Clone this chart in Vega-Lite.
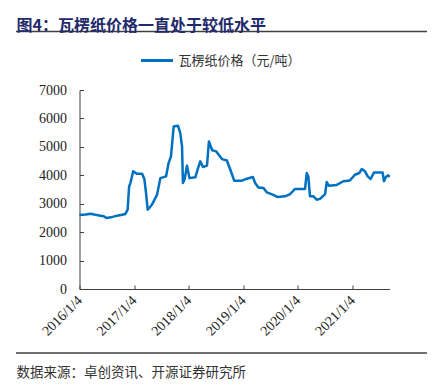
{
  "$schema": "https://vega.github.io/schema/vega-lite/v6.json",
  "width": 310,
  "height": 199,
  "autosize": {"type": "none"},
  "padding": {"left": 79.5, "top": 90, "right": 43.5, "bottom": 102},
  "background": "white",
  "config": {"view": {"stroke": null}},
  "title": {
    "text": "图4：瓦楞纸价格一直处于较低水平",
    "anchor": "start",
    "frame": "group",
    "dx": -63,
    "offset": -3,
    "font": "Noto Sans CJK SC",
    "fontSize": 16,
    "fontWeight": "bold",
    "color": "#1F2A6B"
  },
  "layer": [
    {
      "data": {
        "values": [
          {"date": "2016/01/04", "price": 2600, "series": "瓦楞纸价格（元/吨）"},
          {"date": "2016/02/15", "price": 2620, "series": "瓦楞纸价格（元/吨）"},
          {"date": "2016/03/17", "price": 2650, "series": "瓦楞纸价格（元/吨）"},
          {"date": "2016/04/20", "price": 2610, "series": "瓦楞纸价格（元/吨）"},
          {"date": "2016/05/23", "price": 2580, "series": "瓦楞纸价格（元/吨）"},
          {"date": "2016/06/15", "price": 2560, "series": "瓦楞纸价格（元/吨）"},
          {"date": "2016/07/02", "price": 2500, "series": "瓦楞纸价格（元/吨）"},
          {"date": "2016/08/01", "price": 2520, "series": "瓦楞纸价格（元/吨）"},
          {"date": "2016/09/12", "price": 2580, "series": "瓦楞纸价格（元/吨）"},
          {"date": "2016/10/15", "price": 2610, "series": "瓦楞纸价格（元/吨）"},
          {"date": "2016/11/06", "price": 2640, "series": "瓦楞纸价格（元/吨）"},
          {"date": "2016/11/21", "price": 2790, "series": "瓦楞纸价格（元/吨）"},
          {"date": "2016/12/01", "price": 3610, "series": "瓦楞纸价格（元/吨）"},
          {"date": "2016/12/10", "price": 3730, "series": "瓦楞纸价格（元/吨）"},
          {"date": "2016/12/28", "price": 4140, "series": "瓦楞纸价格（元/吨）"},
          {"date": "2017/01/23", "price": 4050, "series": "瓦楞纸价格（元/吨）"},
          {"date": "2017/02/26", "price": 4050, "series": "瓦楞纸价格（元/吨）"},
          {"date": "2017/03/13", "price": 3870, "series": "瓦楞纸价格（元/吨）"},
          {"date": "2017/03/24", "price": 3380, "series": "瓦楞纸价格（元/吨）"},
          {"date": "2017/04/04", "price": 2790, "series": "瓦楞纸价格（元/吨）"},
          {"date": "2017/04/15", "price": 2850, "series": "瓦楞纸价格（元/吨）"},
          {"date": "2017/05/03", "price": 2970, "series": "瓦楞纸价格（元/吨）"},
          {"date": "2017/06/06", "price": 3320, "series": "瓦楞纸价格（元/吨）"},
          {"date": "2017/06/28", "price": 3900, "series": "瓦楞纸价格（元/吨）"},
          {"date": "2017/08/05", "price": 3960, "series": "瓦楞纸价格（元/吨）"},
          {"date": "2017/08/22", "price": 4430, "series": "瓦楞纸价格（元/吨）"},
          {"date": "2017/09/07", "price": 4660, "series": "瓦楞纸价格（元/吨）"},
          {"date": "2017/09/25", "price": 5720, "series": "瓦楞纸价格（元/吨）"},
          {"date": "2017/10/24", "price": 5740, "series": "瓦楞纸价格（元/吨）"},
          {"date": "2017/11/08", "price": 5490, "series": "瓦楞纸价格（元/吨）"},
          {"date": "2017/11/20", "price": 5020, "series": "瓦楞纸价格（元/吨）"},
          {"date": "2017/11/26", "price": 3730, "series": "瓦楞纸价格（元/吨）"},
          {"date": "2017/12/07", "price": 3850, "series": "瓦楞纸价格（元/吨）"},
          {"date": "2017/12/23", "price": 4340, "series": "瓦楞纸价格（元/吨）"},
          {"date": "2018/01/09", "price": 3900, "series": "瓦楞纸价格（元/吨）"},
          {"date": "2018/02/17", "price": 3930, "series": "瓦楞纸价格（元/吨）"},
          {"date": "2018/03/04", "price": 4200, "series": "瓦楞纸价格（元/吨）"},
          {"date": "2018/03/22", "price": 4490, "series": "瓦楞纸价格（元/吨）"},
          {"date": "2018/04/09", "price": 4290, "series": "瓦楞纸价格（元/吨）"},
          {"date": "2018/05/06", "price": 4340, "series": "瓦楞纸价格（元/吨）"},
          {"date": "2018/05/19", "price": 5190, "series": "瓦楞纸价格（元/吨）"},
          {"date": "2018/06/10", "price": 4880, "series": "瓦楞纸价格（元/吨）"},
          {"date": "2018/07/07", "price": 4840, "series": "瓦楞纸价格（元/吨）"},
          {"date": "2018/08/14", "price": 4570, "series": "瓦楞纸价格（元/吨）"},
          {"date": "2018/09/16", "price": 4520, "series": "瓦楞纸价格（元/吨）"},
          {"date": "2018/10/13", "price": 4140, "series": "瓦楞纸价格（元/吨）"},
          {"date": "2018/11/04", "price": 3810, "series": "瓦楞纸价格（元/吨）"},
          {"date": "2018/12/25", "price": 3810, "series": "瓦楞纸价格（元/吨）"},
          {"date": "2019/01/28", "price": 3880, "series": "瓦楞纸价格（元/吨）"},
          {"date": "2019/03/09", "price": 3940, "series": "瓦楞纸价格（元/吨）"},
          {"date": "2019/03/24", "price": 3730, "series": "瓦楞纸价格（元/吨）"},
          {"date": "2019/04/15", "price": 3570, "series": "瓦楞纸价格（元/吨）"},
          {"date": "2019/05/19", "price": 3550, "series": "瓦楞纸价格（元/吨）"},
          {"date": "2019/06/10", "price": 3400, "series": "瓦楞纸价格（元/吨）"},
          {"date": "2019/07/20", "price": 3320, "series": "瓦楞纸价格（元/吨）"},
          {"date": "2019/08/20", "price": 3240, "series": "瓦楞纸价格（元/吨）"},
          {"date": "2019/10/10", "price": 3260, "series": "瓦楞纸价格（元/吨）"},
          {"date": "2019/11/13", "price": 3340, "series": "瓦楞纸价格（元/吨）"},
          {"date": "2019/12/16", "price": 3520, "series": "瓦楞纸价格（元/吨）"},
          {"date": "2020/02/21", "price": 3520, "series": "瓦楞纸价格（元/吨）"},
          {"date": "2020/03/03", "price": 4080, "series": "瓦楞纸价格（元/吨）"},
          {"date": "2020/03/14", "price": 3960, "series": "瓦楞纸价格（元/吨）"},
          {"date": "2020/03/25", "price": 3260, "series": "瓦楞纸价格（元/吨）"},
          {"date": "2020/04/17", "price": 3260, "series": "瓦楞纸价格（元/吨）"},
          {"date": "2020/05/09", "price": 3140, "series": "瓦楞纸价格（元/吨）"},
          {"date": "2020/05/31", "price": 3170, "series": "瓦楞纸价格（元/吨）"},
          {"date": "2020/07/04", "price": 3340, "series": "瓦楞纸价格（元/吨）"},
          {"date": "2020/07/15", "price": 3760, "series": "瓦楞纸价格（元/吨）"},
          {"date": "2020/07/30", "price": 3630, "series": "瓦楞纸价格（元/吨）"},
          {"date": "2020/09/20", "price": 3660, "series": "瓦楞纸价格（元/吨）"},
          {"date": "2020/11/03", "price": 3790, "series": "瓦楞纸价格（元/吨）"},
          {"date": "2020/12/17", "price": 3820, "series": "瓦楞纸价格（元/吨）"},
          {"date": "2021/01/20", "price": 4020, "series": "瓦楞纸价格（元/吨）"},
          {"date": "2021/02/18", "price": 4080, "series": "瓦楞纸价格（元/吨）"},
          {"date": "2021/03/06", "price": 4220, "series": "瓦楞纸价格（元/吨）"},
          {"date": "2021/03/28", "price": 4140, "series": "瓦楞纸价格（元/吨）"},
          {"date": "2021/04/15", "price": 3960, "series": "瓦楞纸价格（元/吨）"},
          {"date": "2021/05/05", "price": 3870, "series": "瓦楞纸价格（元/吨）"},
          {"date": "2021/05/27", "price": 4100, "series": "瓦楞纸价格（元/吨）"},
          {"date": "2021/07/24", "price": 4100, "series": "瓦楞纸价格（元/吨）"},
          {"date": "2021/08/02", "price": 3790, "series": "瓦楞纸价格（元/吨）"},
          {"date": "2021/08/15", "price": 3940, "series": "瓦楞纸价格（元/吨）"},
          {"date": "2021/08/30", "price": 4000, "series": "瓦楞纸价格（元/吨）"},
          {"date": "2021/09/08", "price": 3940, "series": "瓦楞纸价格（元/吨）"}
        ]
      },
      "mark": {"type": "line", "strokeWidth": 2.5, "strokeJoin": "round"},
      "encoding": {
        "x": {
          "field": "date",
          "type": "temporal",
          "scale": {"domain": [{"year": 2016, "month": 1, "date": 4}, {"year": 2021, "month": 9, "date": 8}]},
          "axis": {
            "values": [
              {"year": 2016, "month": 1, "date": 4},
              {"year": 2017, "month": 1, "date": 4},
              {"year": 2018, "month": 1, "date": 4},
              {"year": 2019, "month": 1, "date": 4},
              {"year": 2020, "month": 1, "date": 4},
              {"year": 2021, "month": 1, "date": 4}
            ],
            "tickCount": 20,
            "labelExpr": "timeFormat(datum.value, '%Y/%-m/%-d')",
            "labelAngle": -45,
            "labelAlign": "right",
            "labelBaseline": "middle",
            "labelPadding": 13,
            "labelFont": "Liberation Serif",
            "labelFontSize": 14,
            "labelColor": "#222222",
            "labelOverlap": false,
            "labelFlush": false,
            "tickSize": -4,
            "tickColor": "#404040",
            "domainColor": "#404040",
            "grid": false,
            "title": "数据来源：卓创资讯、开源证券研究所",
            "titleFont": "Noto Sans CJK SC",
            "titleFontSize": 13.5,
            "titleFontWeight": "normal",
            "titleColor": "#333333",
            "titleAnchor": "start",
            "titleAlign": "left",
            "titleBaseline": "middle",
            "titleX": -63.5,
            "titleY": 83
          }
        },
        "y": {
          "field": "price",
          "type": "quantitative",
          "scale": {"domain": [0, 7000], "nice": false, "zero": true},
          "axis": {
            "values": [0, 1000, 2000, 3000, 4000, 5000, 6000, 7000],
            "tickCount": 20,
            "format": "d",
            "labelOverlap": false,
            "labelFlush": false,
            "labelFont": "Liberation Serif",
            "labelFontSize": 14,
            "labelColor": "#222222",
            "labelPadding": 17,
            "tickSize": -4,
            "tickColor": "#404040",
            "domainColor": "#404040",
            "grid": false,
            "title": null
          }
        },
        "color": {
          "field": "series",
          "type": "nominal",
          "scale": {"domain": ["瓦楞纸价格（元/吨）"], "range": ["#0070C0"]},
          "legend": {
            "orient": "none",
            "legendX": 60,
            "legendY": -47,
            "title": null,
            "symbolType": "stroke",
            "symbolSize": 1024,
            "symbolStrokeWidth": 3,
            "labelFont": "Noto Sans CJK SC",
            "labelFontSize": 13,
            "labelColor": "#333333",
            "labelOffset": 4
          }
        }
      }
    },
    {
      "data": {"values": [{"part": "header"}]},
      "mark": {"type": "rule", "color": "#404040", "strokeWidth": 1.3},
      "encoding": {
        "x": {"datum": {"year": 2014, "month": 11, "date": 5}, "type": "temporal"},
        "x2": {"datum": {"year": 2022, "month": 5, "date": 17}},
        "y": {"datum": 9058, "type": "quantitative"}
      }
    },
    {
      "data": {"values": [{"part": "footer"}]},
      "mark": {"type": "rule", "color": "#404040", "strokeWidth": 1.3},
      "encoding": {
        "x": {"datum": {"year": 2014, "month": 11, "date": 5}, "type": "temporal"},
        "x2": {"datum": {"year": 2022, "month": 5, "date": 17}},
        "y": {"datum": -2251, "type": "quantitative"}
      }
    }
  ]
}
